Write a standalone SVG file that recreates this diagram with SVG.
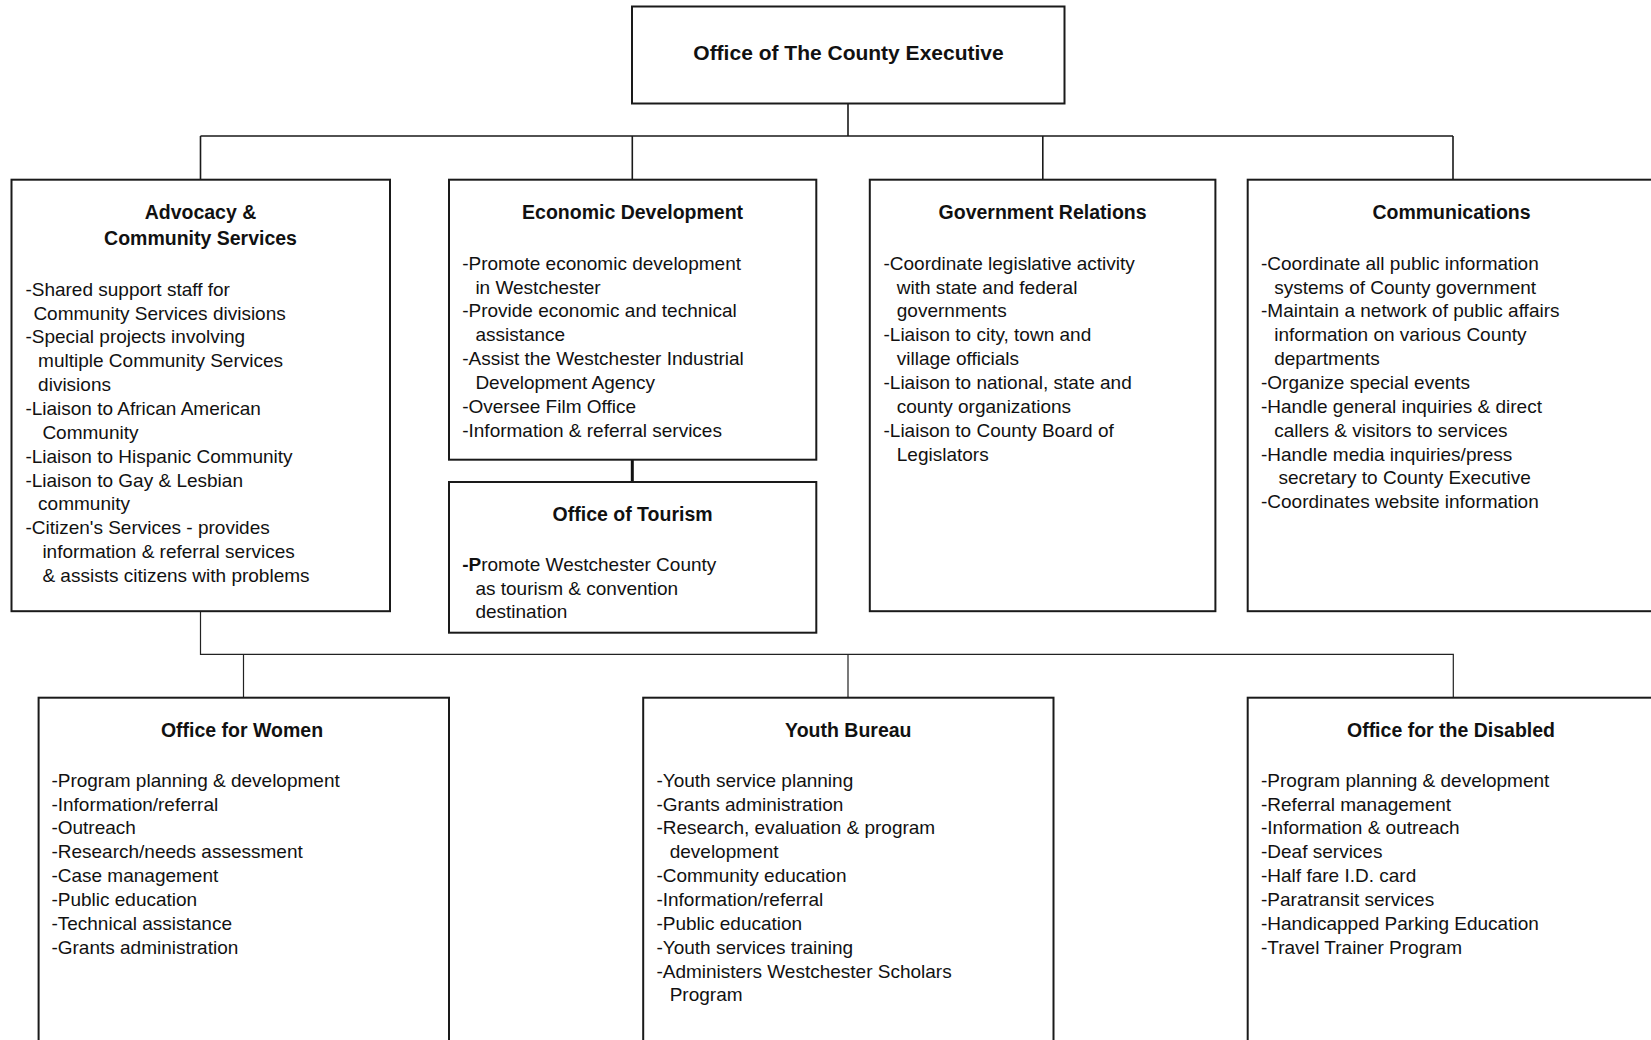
<svg xmlns="http://www.w3.org/2000/svg" width="1651" height="1040" viewBox="0 0 1651 1040">
<style>
.box{fill:#fff;stroke:#1a1a1a;stroke-width:2}
.conn{fill:none;stroke:#1a1a1a;stroke-width:1.6}
.conn2{fill:none;stroke:#222;stroke-width:1.2}
.t{font-family:"Liberation Sans",Arial,sans-serif;font-size:19px;fill:#111}
.h{font-family:"Liberation Sans",Arial,sans-serif;font-size:19.5px;font-weight:bold;fill:#111;text-anchor:middle}
.top{font-family:"Liberation Sans",Arial,sans-serif;font-size:21px;font-weight:bold;fill:#111;text-anchor:middle}
</style>
<rect width="1651" height="1040" fill="#fff"/>
<g id="connectors">
<path class="conn" d="M848 104V136M200.5 136H1453M200.5 136V180M632.3 136V180M1042.8 136V180M1453 136V180"/>
<path d="M632.3 460V482" stroke="#111" stroke-width="3"/>
<path class="conn2" d="M200.5 611V654.3H1453.3V698M243.5 654.3V698M848 654.3V698"/>
</g>
<g id="county-executive">
<rect class="box" x="632" y="6.5" width="432.5" height="97"/>
<text class="top" x="848.5" y="59.5">Office of The County Executive</text>
</g>
<g id="advocacy">
<rect class="box" x="11.5" y="179.7" width="378.5" height="431.5"/>
<text class="h" x="200.5" y="219">Advocacy &amp;</text>
<text class="h" x="200.5" y="245">Community Services</text>
<text class="t" x="25.4" y="295.7">-Shared support staff for</text>
<text class="t" x="33.4" y="319.6">Community Services divisions</text>
<text class="t" x="25.4" y="343.4">-Special projects involving</text>
<text class="t" x="38.1" y="367.3">multiple Community Services</text>
<text class="t" x="38.1" y="391.1">divisions</text>
<text class="t" x="25.4" y="415">-Liaison to African American</text>
<text class="t" x="42.4" y="438.9">Community</text>
<text class="t" x="25.4" y="462.7">-Liaison to Hispanic Community</text>
<text class="t" x="25.4" y="486.6">-Liaison to Gay &amp; Lesbian</text>
<text class="t" x="38.1" y="510.4">community</text>
<text class="t" x="25.4" y="534.3">-Citizen's Services - provides</text>
<text class="t" x="42.4" y="558.2">information &amp; referral services</text>
<text class="t" x="42.4" y="582">&amp; assists citizens with problems</text>
</g>
<g id="economic-development">
<rect class="box" x="449" y="179.7" width="367.3" height="280"/>
<text class="h" x="632.6" y="219">Economic Development</text>
<text class="t" x="462.2" y="269.7">-Promote economic development</text>
<text class="t" x="475.4" y="293.6">in Westchester</text>
<text class="t" x="462.2" y="317.4">-Provide economic and technical</text>
<text class="t" x="475.4" y="341.3">assistance</text>
<text class="t" x="462.2" y="365.1">-Assist the Westchester Industrial</text>
<text class="t" x="475.4" y="389">Development Agency</text>
<text class="t" x="462.2" y="412.9">-Oversee Film Office</text>
<text class="t" x="462.2" y="436.7">-Information &amp; referral services</text>
</g>
<g id="tourism">
<rect class="box" x="449" y="482" width="367.3" height="150.7"/>
<text class="h" x="632.6" y="520.7">Office of Tourism</text>
<text class="t" x="462.2" y="570.7"><tspan font-weight="bold">-P</tspan>romote Westchester County</text>
<text class="t" x="475.4" y="594.6">as tourism &amp; convention</text>
<text class="t" x="475.4" y="618.4">destination</text>
</g>
<g id="government-relations">
<rect class="box" x="869.8" y="179.7" width="345.6" height="431.5"/>
<text class="h" x="1042.6" y="219">Government Relations</text>
<text class="t" x="883.5" y="269.7">-Coordinate legislative activity</text>
<text class="t" x="896.8" y="293.6">with state and federal</text>
<text class="t" x="896.8" y="317.4">governments</text>
<text class="t" x="883.5" y="341.3">-Liaison to city, town and</text>
<text class="t" x="896.8" y="365.1">village officials</text>
<text class="t" x="883.5" y="389">-Liaison to national, state and</text>
<text class="t" x="896.8" y="412.9">county organizations</text>
<text class="t" x="883.5" y="436.7">-Liaison to County Board of</text>
<text class="t" x="896.8" y="460.6">Legislators</text>
</g>
<g id="communications">
<rect class="box" x="1247.7" y="179.7" width="420" height="431.5"/>
<text class="h" x="1451.5" y="219">Communications</text>
<text class="t" x="1261" y="269.7">-Coordinate all public information</text>
<text class="t" x="1274.2" y="293.6">systems of County government</text>
<text class="t" x="1261" y="317.4">-Maintain a network of public affairs</text>
<text class="t" x="1274.2" y="341.3">information on various County</text>
<text class="t" x="1274.2" y="365.1">departments</text>
<text class="t" x="1261" y="389">-Organize special events</text>
<text class="t" x="1261" y="412.9">-Handle general inquiries &amp; direct</text>
<text class="t" x="1274.2" y="436.7">callers &amp; visitors to services</text>
<text class="t" x="1261" y="460.6">-Handle media inquiries/press</text>
<text class="t" x="1278.4" y="484.4">secretary to County Executive</text>
<text class="t" x="1261" y="508.3">-Coordinates website information</text>
</g>
<g id="office-for-women">
<rect class="box" x="38.6" y="697.7" width="410.4" height="360"/>
<text class="h" x="242" y="737.3">Office for Women</text>
<text class="t" x="51.4" y="786.7">-Program planning &amp; development</text>
<text class="t" x="51.4" y="810.6">-Information/referral</text>
<text class="t" x="51.4" y="834.4">-Outreach</text>
<text class="t" x="51.4" y="858.3">-Research/needs assessment</text>
<text class="t" x="51.4" y="882.1">-Case management</text>
<text class="t" x="51.4" y="906">-Public education</text>
<text class="t" x="51.4" y="929.9">-Technical assistance</text>
<text class="t" x="51.4" y="953.7">-Grants administration</text>
</g>
<g id="youth-bureau">
<rect class="box" x="643.2" y="697.7" width="410.3" height="360"/>
<text class="h" x="848.3" y="737.3">Youth Bureau</text>
<text class="t" x="656.4" y="786.7">-Youth service planning</text>
<text class="t" x="656.4" y="810.6">-Grants administration</text>
<text class="t" x="656.4" y="834.4">-Research, evaluation &amp; program</text>
<text class="t" x="669.7" y="858.3">development</text>
<text class="t" x="656.4" y="882.1">-Community education</text>
<text class="t" x="656.4" y="906">-Information/referral</text>
<text class="t" x="656.4" y="929.9">-Public education</text>
<text class="t" x="656.4" y="953.7">-Youth services training</text>
<text class="t" x="656.4" y="977.6">-Administers Westchester Scholars</text>
<text class="t" x="669.7" y="1001.4">Program</text>
</g>
<g id="office-for-the-disabled">
<rect class="box" x="1247.7" y="697.7" width="420" height="360"/>
<text class="h" x="1451" y="737.3">Office for the Disabled</text>
<text class="t" x="1261" y="786.7">-Program planning &amp; development</text>
<text class="t" x="1261" y="810.6">-Referral management</text>
<text class="t" x="1261" y="834.4">-Information &amp; outreach</text>
<text class="t" x="1261" y="858.3">-Deaf services</text>
<text class="t" x="1261" y="882.1">-Half fare I.D. card</text>
<text class="t" x="1261" y="906">-Paratransit services</text>
<text class="t" x="1261" y="929.9">-Handicapped Parking Education</text>
<text class="t" x="1261" y="953.7">-Travel Trainer Program</text>
</g>
</svg>
